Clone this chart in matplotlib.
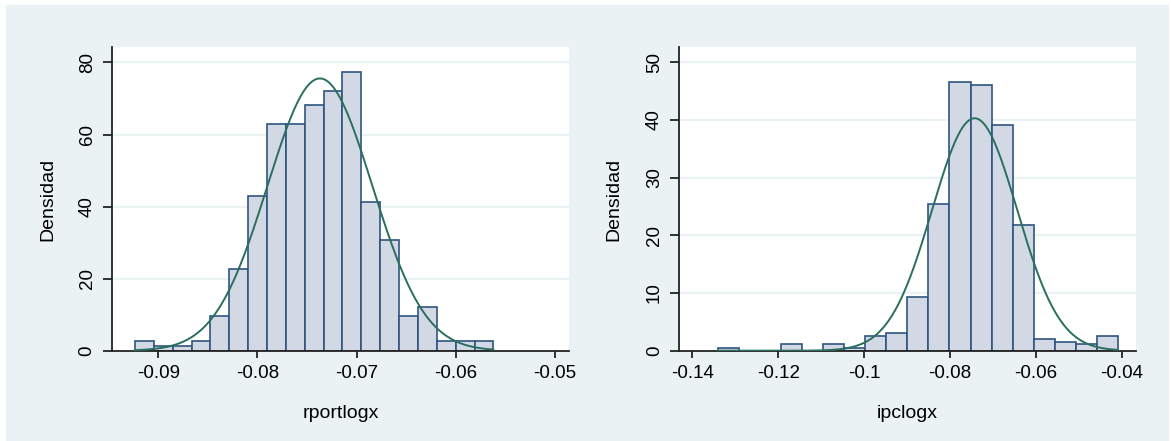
import numpy as np
import matplotlib
matplotlib.use("Agg")
import matplotlib.pyplot as plt
from matplotlib.patches import Rectangle

plt.rcParams['font.family'] = ['Liberation Sans', 'DejaVu Sans']

# --- data ---
# left panel: rportlogx
rport_start = -0.09235
rport_width = 0.001902
rport_heights = [2.7, 1.4, 1.4, 2.7, 9.5, 22.7, 42.8, 62.8, 62.8, 68.2,
                 72.2, 77.4, 41.4, 30.6, 9.5, 12.0, 2.7, 2.7, 2.7]
rport_mean = -0.0737
rport_sd = 0.00528
rport_xticks = [-0.09, -0.08, -0.07, -0.06, -0.05]
rport_xlabels = ['-0.09', '-0.08', '-0.07', '-0.06', '-0.05']
rport_yticks = [0, 20, 40, 60, 80]

# right panel: ipclogx
ipc_start = -0.13409
ipc_width = 0.004907
ipc_heights = [0.46, 0, 0, 1.1, 0, 1.1, 0.46, 2.6, 3.06, 9.36,
               25.4, 46.5, 46.1, 39.2, 21.8, 2.08, 1.56, 1.1, 2.6]
ipc_mean = -0.07425
ipc_sd = 0.0099
ipc_xticks = [-0.14, -0.12, -0.10, -0.08, -0.06, -0.04]
ipc_xlabels = ['-0.14', '-0.12', '-0.1', '-0.08', '-0.06', '-0.04']
ipc_yticks = [0, 10, 20, 30, 40, 50]

BG = '#EAF2F3'
BAR = '#D3D9E4'
EDGE = '#2E5580'
CURVE = '#2A6E60'

W, H = 1171, 441
fig = plt.figure(figsize=(W / 100, H / 100), dpi=100, facecolor='white')
fig.patches.append(Rectangle((6 / W, 0), (1168 - 6) / W, (H - 5) / H,
                             transform=fig.transFigure, color=BG, zorder=-10))


def panel(rect, start, width, heights, mean, sd, xlim, ylim,
          xticks, xlabels, yticks, xlabel, ylab_x):
    x0, y0, x1, y1 = rect
    ax = fig.add_axes([x0 / W, 1 - y1 / H, (x1 - x0) / W, (y1 - y0) / H])
    ax.set_facecolor('white')
    n = len(heights)
    lefts = start + width * np.arange(n)
    ax.bar(lefts, heights, width=width, align='edge', color=BAR,
           edgecolor=EDGE, linewidth=1.2, zorder=2)
    xs = np.linspace(start, start + width * n, 400)
    pdf = np.exp(-0.5 * ((xs - mean) / sd) ** 2) / (sd * np.sqrt(2 * np.pi))
    ax.plot(xs, pdf, color=CURVE, linewidth=1.4, zorder=3)
    ax.set_xlim(*xlim)
    ax.set_ylim(*ylim)
    for yv in yticks[1:]:
        ax.axhline(yv, color=BG, linewidth=1.6, zorder=1)
    ax.set_xticks(xticks)
    ax.set_xticklabels(xlabels)
    ax.set_yticks(yticks)
    ax.set_yticklabels([str(v) for v in yticks], rotation=90, va='center')
    for s in ['top', 'right']:
        ax.spines[s].set_visible(False)
    for s in ['left', 'bottom']:
        ax.spines[s].set_linewidth(1.3)
        ax.spines[s].set_color('#222222')
    ax.tick_params(axis='x', length=5, width=1.1, pad=5, labelsize=13.5)
    ax.tick_params(axis='y', length=6.5, width=1.1, pad=5, labelsize=13.5)
    ax.set_xlabel(xlabel, fontsize=14)
    ax.xaxis.set_label_coords(0.5, -0.18)
    ax.set_ylabel('Densidad', fontsize=14)
    ax.yaxis.set_label_coords(ylab_x, 0.5)
    return ax


panel((111.7, 47.3, 569.3, 350.7), rport_start, rport_width, rport_heights,
      rport_mean, rport_sd, (-0.09469, -0.04856), (0, 84.2),
      rport_xticks, rport_xlabels, rport_yticks, 'rportlogx', -0.12)
panel((679, 47.3, 1136, 350.7), ipc_start, ipc_width, ipc_heights,
      ipc_mean, ipc_sd, (-0.1431, -0.03667), (0, 52.6),
      ipc_xticks, ipc_xlabels, ipc_yticks, 'ipclogx', -0.124)

fig.savefig('out.png', dpi=100, facecolor=fig.get_facecolor())
